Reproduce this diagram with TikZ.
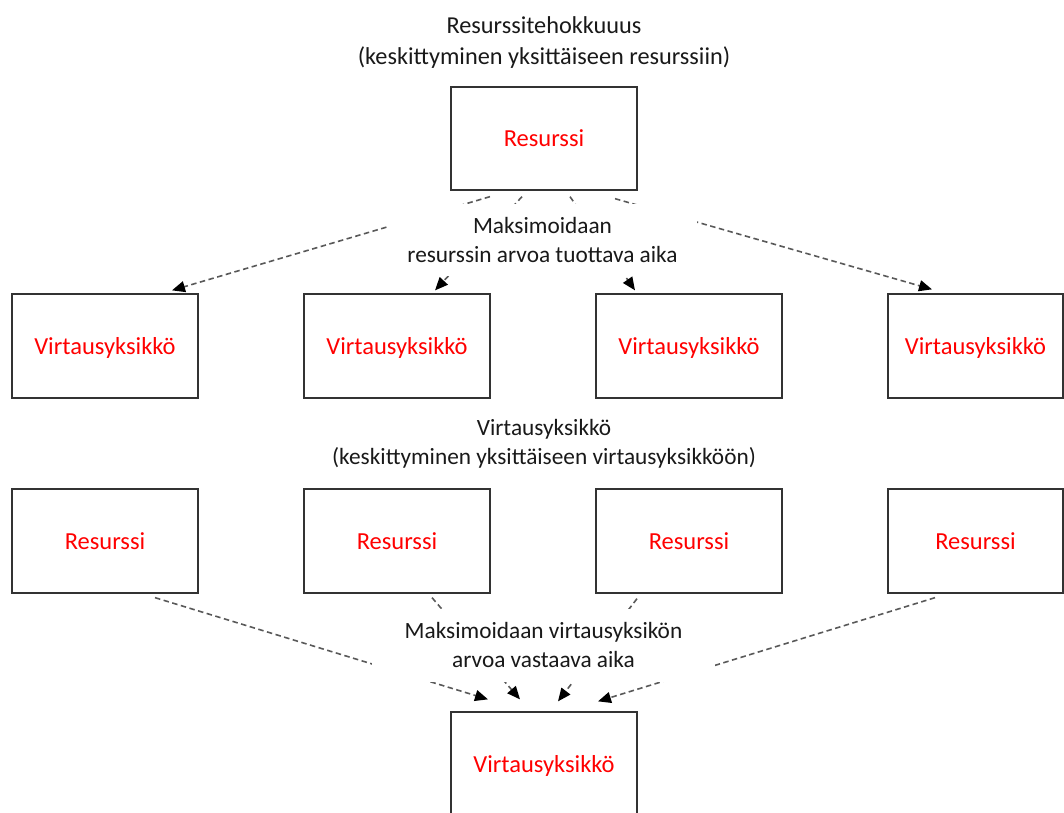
\documentclass[tikz,border=0pt]{standalone}
\usepackage{fontspec}
\setmainfont{Carlito}
\usetikzlibrary{arrows.meta,calc}
\begin{document}
\begin{tikzpicture}[x=1pt,y=-1pt,
  box/.style={draw=black!80, line width=1.3pt, minimum width=186pt, minimum height=104pt,
    inner sep=0pt, text depth=0pt, text=red, font=\fontsize{24.5}{29}\selectfont},
  caption/.style={align=center, text=black!90, font=\fontsize{23.3}{29}\selectfont},
  cover/.style={caption, fill=white, inner sep=0pt},
  flow/.style={draw=black!65, line width=1.6pt, dash pattern=on 5.5pt off 3.5pt,
    -{Triangle[color=black,length=13pt,width=11pt]}}]
\useasboundingbox (0,0) rectangle (1064,812);
\clip (0,0) rectangle (1064,812);

% headings
\node[caption, font=\fontsize{24.3}{31}\selectfont] (head1) at (544,43)
  {Resurssitehokkuuus\\(keskittyminen yksittäiseen resurssiin)};
\node[caption] (head2) at (544,444) {Virtausyksikkö\\(keskittyminen yksittäiseen virtausyksikköön)};

% resource-efficiency boxes
\node[box, minimum height=103pt] (top) at (544,138.5) {Resurssi};
\node[box] (v1) at (105,346) {Virtausyksikkö};
\node[box] (v2) at (397,346) {Virtausyksikkö};
\node[box] (v3) at (689,346) {Virtausyksikkö};
\node[box, minimum width=175pt] (v4) at (975.5,346) {Virtausyksikkö};

% flow-efficiency boxes
\node[box] (r1) at (105,541) {Resurssi};
\node[box] (r2) at (397,541) {Resurssi};
\node[box] (r3) at (689,541) {Resurssi};
\node[box, minimum width=175pt] (r4) at (975.5,541) {Resurssi};
\node[box] (bottom) at (544,764) {Virtausyksikkö};

% one resource feeding many flow units
\draw[flow] ($(top.south)+(-54,6)$) -- ($(v1.north)+(67,-3)$);
\draw[flow] ($(top.south)+(-22,6)$) -- ($(v2.north)+(38,-3)$);
\draw[flow] ($(top.south)+(26,6)$) -- ($(v3.north)+(-54,-3)$);
\draw[flow] ($(top.south)+(71,8)$) -- ($(v4.north)+(-43.5,-4)$);

% many resources feeding one flow unit
\draw[flow] ($(r1.south)+(50,4)$) -- ($(bottom.north)+(-56,-12)$);
\draw[flow] ($(r2.south)+(35,4)$) -- ($(bottom.north)+(-24,-12)$);
\draw[flow] ($(r3.south)+(-52,5)$) -- ($(bottom.north)+(14,-10)$);
\draw[flow] ($(r4.south)+(-40.5,4)$) -- ($(bottom.north)+(54,-10)$);

% labels laid over the connectors
\node[cover, minimum width=309pt, minimum height=72pt] (lab1) at (542.5,240)
  {Maksimoidaan\\resurssin arvoa tuottava aika};
\node[cover, minimum width=343pt, minimum height=73pt] (lab2) at (543.5,645)
  {Maksimoidaan virtausyksikön\\arvoa vastaava aika};
\end{tikzpicture}
\end{document}
